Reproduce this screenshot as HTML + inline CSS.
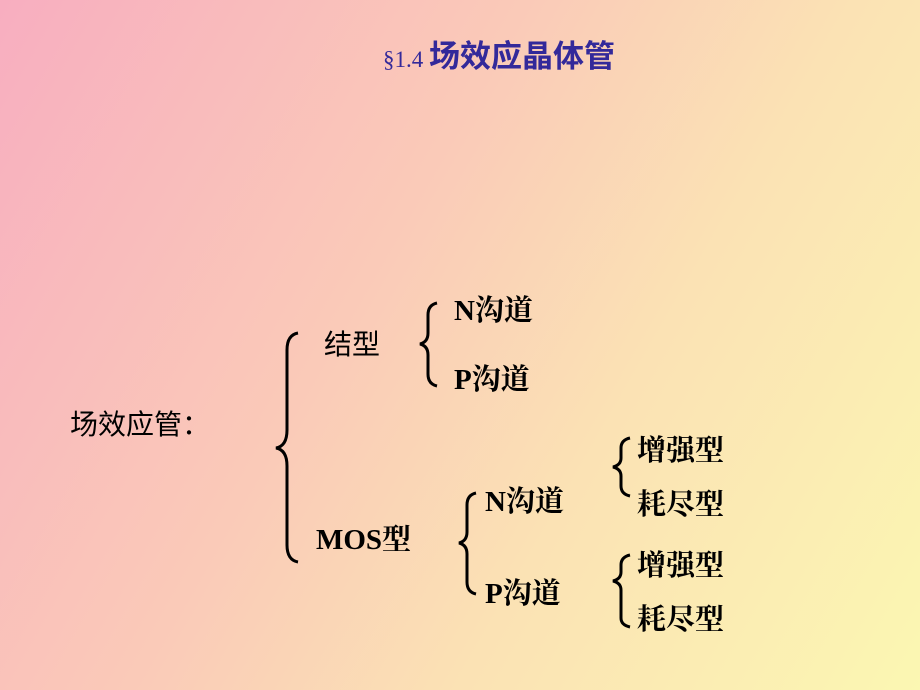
<!DOCTYPE html>
<html><head><meta charset="utf-8"><style>
body{margin:0}
#c{position:relative;width:920px;height:690px;overflow:hidden;background:linear-gradient(120deg,#f8aec0 0%,#facab8 40%,#fbe2b4 65%,#fbf7b2 100%);font-family:"Liberation Serif","Noto Serif CJK SC","Noto Sans CJK SC",serif;font-weight:bold;color:#000}
.t{position:absolute;font-size:29px;line-height:1;white-space:nowrap}
</style></head><body><div id="c">
<div class="t" style="left:383px;top:38px;color:#33299a;font-size:31px"><span style="font-weight:normal;font-size:23px">§1.4 </span><span style="font-family:'Noto Sans CJK SC',sans-serif;font-weight:bold">场效应晶体管</span></div>
<div class="t" style="left:70px;top:409px;font-family:'Noto Sans CJK SC',sans-serif;font-weight:normal;font-size:28px">场效应管：</div>
<div class="t" style="left:324px;top:329px;font-family:'Noto Sans CJK SC',sans-serif;font-weight:normal;font-size:28px">结型</div>
<div class="t" style="left:454px;top:297px">N沟道</div>
<div class="t" style="left:454px;top:366px">P沟道</div>
<div class="t" style="left:316px;top:526px">MOS型</div>
<div class="t" style="left:485px;top:488px">N沟道</div>
<div class="t" style="left:485px;top:580px">P沟道</div>
<div class="t" style="left:637px;top:437px">增强型</div>
<div class="t" style="left:637px;top:491px">耗尽型</div>
<div class="t" style="left:637px;top:552px">增强型</div>
<div class="t" style="left:637px;top:606px">耗尽型</div>
<svg width="920" height="690" style="position:absolute;left:0;top:0" fill="none" stroke="#000" stroke-width="3">
<path d="M298 333 Q287 335 287 350 L287 430 Q287 446 276 448 Q287 450 287 466 L287 545 Q287 560 298 562"/>
<path d="M437 303 Q428 305 428 315 L428 333 Q428 342 420 344 Q428 346 428 355 L428 374 Q428 384 437 386"/>
<path d="M476 493 Q467 495 467 505 L467 532 Q467 541 459 543 Q467 545 467 554 L467 582 Q467 592 476 594"/>
<path d="M630 438 Q621 440 621 448 L621 458 Q621 465 613 467 Q621 469 621 476 L621 486 Q621 494 630 496"/>
<path d="M630 555 Q621 557 621 565 L621 572 Q621 579 613 581 Q621 583 621 590 L621 618 Q621 625 630 627"/>
</svg>
</div></body></html>
